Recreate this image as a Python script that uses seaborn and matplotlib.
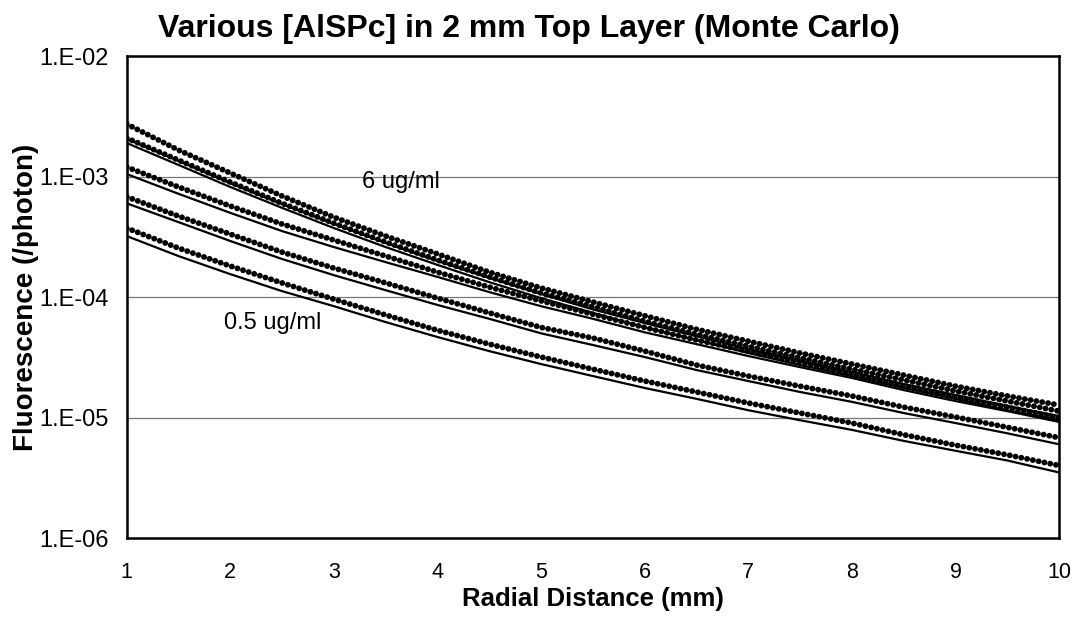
import matplotlib
matplotlib.use("Agg")
import matplotlib.pyplot as plt
import seaborn as sns
import numpy as np
import pandas as pd
from matplotlib.ticker import FixedLocator, FixedFormatter, NullLocator

# ---- data ----
distance_mm = [1.0, 1.5, 2.0, 2.5, 3.0, 3.5, 4.0, 4.5, 5.0, 5.5,
               6.0, 6.5, 7.0, 7.5, 8.0, 8.5, 9.0, 9.5, 10.0]

# Monte Carlo results (dotted series), top (6 ug/ml) to bottom (0.5 ug/ml)
mc_6 = [2.73e-3, 1.66e-3, 1.07e-3, 6.9e-4, 4.6e-4, 3.21e-4, 2.28e-4, 1.61e-4, 1.19e-4, 9.1e-5,
        7.0e-5, 5.4e-5, 4.3e-5, 3.43e-5, 2.78e-5, 2.25e-5, 1.82e-5, 1.51e-5, 1.27e-5]
mc_4 = [2.09e-3, 1.37e-3, 9.0e-4, 6.0e-4, 4.1e-4, 2.86e-4, 2.03e-4, 1.47e-4, 1.08e-4, 8.3e-5,
        6.3e-5, 4.9e-5, 3.9e-5, 3.12e-5, 2.52e-5, 2.05e-5, 1.66e-5, 1.37e-5, 1.13e-5]
mc_2 = [1.20e-3, 8.2e-4, 5.7e-4, 4.04e-4, 2.97e-4, 2.19e-4, 1.61e-4, 1.21e-4, 9.3e-5, 7.2e-5,
        5.6e-5, 4.4e-5, 3.56e-5, 2.89e-5, 2.30e-5, 1.82e-5, 1.48e-5, 1.22e-5, 9.9e-6]
mc_1 = [6.8e-4, 4.7e-4, 3.33e-4, 2.36e-4, 1.74e-4, 1.31e-4, 9.8e-5, 7.4e-5, 5.6e-5, 4.57e-5,
        3.56e-5, 2.73e-5, 2.21e-5, 1.82e-5, 1.51e-5, 1.22e-5, 1.01e-5, 8.3e-6, 6.8e-6]
mc_05 = [3.74e-4, 2.55e-4, 1.81e-4, 1.31e-4, 9.6e-5, 7.1e-5, 5.3e-5, 4.07e-5, 3.18e-5, 2.52e-5,
         2.01e-5, 1.63e-5, 1.32e-5, 1.09e-5, 9.0e-6, 7.2e-6, 5.9e-6, 4.9e-6, 4.0e-6]

# Model curves (solid lines)
fit_6 = [2.05e-3, 1.35e-3, 8.8e-4, 5.9e-4, 4.04e-4, 2.81e-4, 1.99e-4, 1.44e-4, 1.06e-4, 7.9e-5,
         6.1e-5, 4.74e-5, 3.70e-5, 2.94e-5, 2.39e-5, 1.90e-5, 1.54e-5, 1.25e-5, 1.03e-5]
fit_4 = [1.90e-3, 1.25e-3, 8.2e-4, 5.5e-4, 3.74e-4, 2.60e-4, 1.85e-4, 1.33e-4, 9.8e-5, 7.4e-5,
         5.6e-5, 4.4e-5, 3.43e-5, 2.73e-5, 2.21e-5, 1.76e-5, 1.43e-5, 1.15e-5, 9.5e-6]
fit_2 = [1.05e-3, 7.2e-4, 5.0e-4, 3.53e-4, 2.60e-4, 1.95e-4, 1.47e-4, 1.10e-4, 8.4e-5, 6.6e-5,
         5.1e-5, 4.07e-5, 3.24e-5, 2.62e-5, 2.13e-5, 1.69e-5, 1.37e-5, 1.13e-5, 9.2e-6]
fit_1 = [6.0e-4, 4.19e-4, 2.92e-4, 2.07e-4, 1.52e-4, 1.14e-4, 8.6e-5, 6.6e-5, 5.0e-5, 4.0e-5,
         3.18e-5, 2.48e-5, 2.01e-5, 1.63e-5, 1.35e-5, 1.09e-5, 9.0e-6, 7.4e-6, 6.0e-6]
fit_05 = [3.21e-4, 2.19e-4, 1.55e-4, 1.12e-4, 8.4e-5, 6.2e-5, 4.66e-5, 3.56e-5, 2.78e-5, 2.21e-5,
          1.76e-5, 1.43e-5, 1.15e-5, 9.5e-6, 7.9e-6, 6.4e-6, 5.3e-6, 4.4e-6, 3.5e-6]

mc_series = [mc_6, mc_4, mc_2, mc_1, mc_05]
fit_series = [fit_6, fit_4, fit_2, fit_1, fit_05]

x_ticks = [1, 2, 3, 4, 5, 6, 7, 8, 9, 10]
y_ticks = [1e-6, 1e-5, 1e-4, 1e-3, 1e-2]
y_tick_labels = ["1.E-06", "1.E-05", "1.E-04", "1.E-03", "1.E-02"]

title = "Various [AlSPc] in 2 mm Top Layer (Monte Carlo)"
x_label = "Radial Distance (mm)"
y_label = "Fluorescence (/photon)"
annotations = [("6 ug/ml", 3.27, 9.0e-4), ("0.5 ug/ml", 1.94, 6.1e-5)]

# ---- style ----
sns.set_theme(style="white")
plt.rcParams["font.family"] = ["Liberation Sans", "DejaVu Sans"]

fig = plt.figure(figsize=(10.83, 6.17), dpi=100)
ax = fig.add_axes([0.117, 0.128, 0.861, 0.781])

for ys in fit_series:
    sns.lineplot(x=distance_mm, y=ys, ax=ax, color="black", linewidth=1.6,
                 estimator=None, sort=False)
for ys in mc_series:
    sns.lineplot(x=distance_mm, y=ys, ax=ax, color="black", linewidth=4.2,
                 linestyle=(0, (0.01, 1.0)), dash_capstyle="round",
                 estimator=None, sort=False)

ax.set_yscale("log")
ax.set_xlim(1, 10)
ax.set_ylim(1e-6, 1e-2)

ax.yaxis.set_major_locator(FixedLocator(y_ticks))
ax.yaxis.set_major_formatter(FixedFormatter(y_tick_labels))
ax.yaxis.set_minor_locator(NullLocator())
ax.xaxis.set_major_locator(FixedLocator(x_ticks))
ax.set_xticklabels([str(t) for t in x_ticks])

for yv in [1e-5, 1e-4, 1e-3]:
    ax.axhline(yv, color="#777777", linewidth=0.9, zorder=0)

for sp in ax.spines.values():
    sp.set_color("black")
    sp.set_linewidth(1.8)

ax.tick_params(axis="both", which="major", direction="out", length=4, width=1,
               color="black", labelcolor="black")
ax.tick_params(axis="y", labelsize=17, pad=9)
ax.tick_params(axis="x", labelsize=15.5, pad=13)

ax.set_xlabel(x_label, fontsize=18.5, fontweight="bold", labelpad=3, color="black")
ax.set_ylabel(y_label, fontsize=20, fontweight="bold", color="black")
ax.yaxis.set_label_coords(-0.094, 0.5)

for txt, xv, yv in annotations:
    ax.text(xv, yv, txt, fontsize=17, ha="left", va="center", color="black")

fig.text(0.488, 0.953, title, fontsize=23, fontweight="bold", ha="center",
         va="center", color="black")

fig.savefig("out.png", dpi=100, facecolor="white")
